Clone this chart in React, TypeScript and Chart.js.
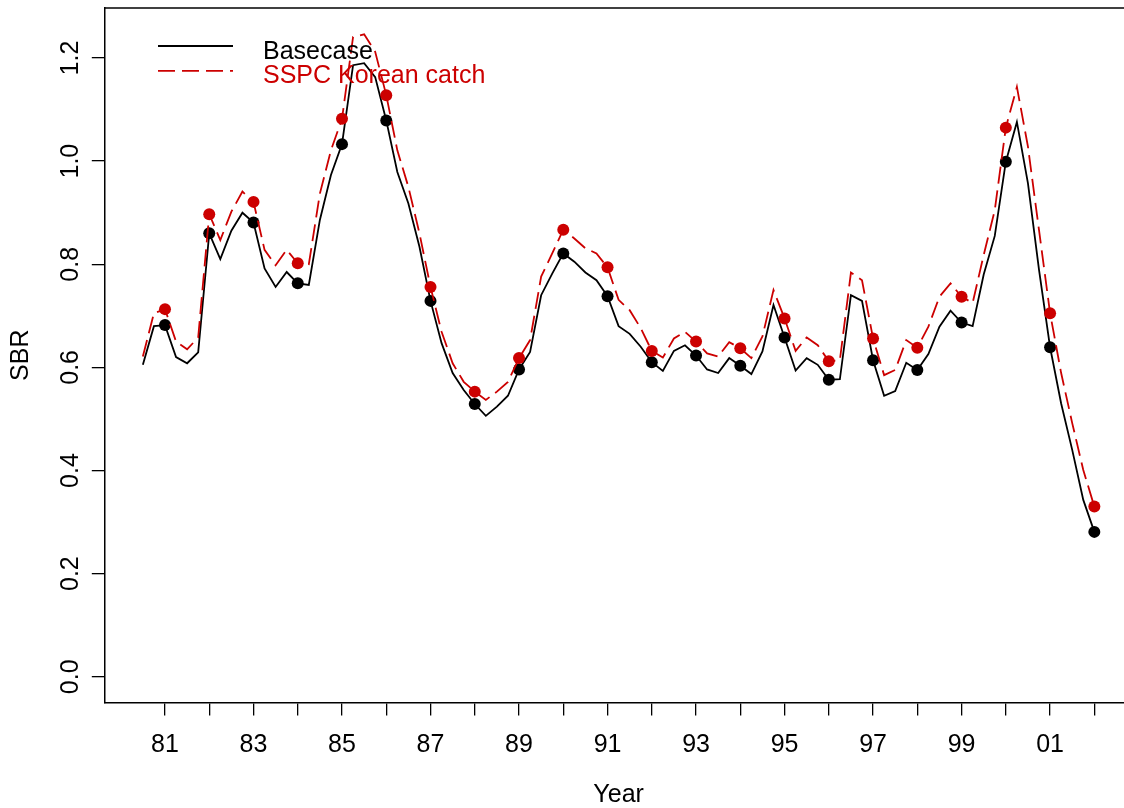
import React, { useEffect, useRef } from "react";
import { Chart, registerables } from "chart.js";

Chart.register(...registerables);

// ---- data -------------------------------------------------------------
const years: number[] = [
  1980.5, 1980.75,
  1981.0, 1981.25, 1981.5, 1981.75,
  1982.0, 1982.25, 1982.5, 1982.75,
  1983.0, 1983.25, 1983.5, 1983.75,
  1984.0, 1984.25, 1984.5, 1984.75,
  1985.0, 1985.25, 1985.5, 1985.75,
  1986.0, 1986.25, 1986.5, 1986.75,
  1987.0, 1987.25, 1987.5, 1987.75,
  1988.0, 1988.25, 1988.5, 1988.75,
  1989.0, 1989.25, 1989.5, 1989.75,
  1990.0, 1990.25, 1990.5, 1990.75,
  1991.0, 1991.25, 1991.5, 1991.75,
  1992.0, 1992.25, 1992.5, 1992.75,
  1993.0, 1993.25, 1993.5, 1993.75,
  1994.0, 1994.25, 1994.5, 1994.75,
  1995.0, 1995.25, 1995.5, 1995.75,
  1996.0, 1996.25, 1996.5, 1996.75,
  1997.0, 1997.25, 1997.5, 1997.75,
  1998.0, 1998.25, 1998.5, 1998.75,
  1999.0, 1999.25, 1999.5, 1999.75,
  2000.0, 2000.25, 2000.5, 2000.75,
  2001.0, 2001.25, 2001.5, 2001.75,
  2002.0,
];

const basecase: number[] = [
  0.605, 0.680,
  0.682, 0.620, 0.608, 0.629,
  0.860, 0.810, 0.865, 0.900,
  0.881, 0.792, 0.756, 0.785,
  0.763, 0.760, 0.886, 0.973,
  1.033, 1.186, 1.190, 1.163,
  1.079, 0.979, 0.918, 0.834,
  0.729, 0.647, 0.589, 0.556,
  0.529, 0.506, 0.524, 0.545,
  0.596, 0.630, 0.740, 0.782,
  0.821, 0.805, 0.784, 0.769,
  0.738, 0.680, 0.665, 0.640,
  0.610, 0.593, 0.632, 0.643,
  0.623, 0.596, 0.589, 0.618,
  0.603, 0.587, 0.631, 0.721,
  0.658, 0.594, 0.618, 0.605,
  0.576, 0.577, 0.740, 0.729,
  0.614, 0.545, 0.554, 0.609,
  0.595, 0.626, 0.679, 0.710,
  0.687, 0.680, 0.780, 0.855,
  0.999, 1.076, 0.957, 0.789,
  0.639, 0.530, 0.440, 0.343,
  0.281,
];

const sspcKorean: number[] = [
  0.621, 0.705,
  0.713, 0.650, 0.635, 0.658,
  0.897, 0.847, 0.902, 0.941,
  0.921, 0.828, 0.798, 0.828,
  0.802, 0.800, 0.937, 1.021,
  1.082, 1.241, 1.246, 1.212,
  1.128, 1.021, 0.950, 0.860,
  0.756, 0.669, 0.608, 0.572,
  0.553, 0.537, 0.553, 0.572,
  0.618, 0.653, 0.776, 0.821,
  0.867, 0.850, 0.831, 0.821,
  0.794, 0.731, 0.711, 0.676,
  0.632, 0.619, 0.656, 0.669,
  0.650, 0.627, 0.621, 0.649,
  0.637, 0.618, 0.660, 0.750,
  0.695, 0.632, 0.658, 0.643,
  0.612, 0.614, 0.784, 0.769,
  0.656, 0.585, 0.595, 0.653,
  0.638, 0.679, 0.737, 0.763,
  0.737, 0.725, 0.818, 0.905,
  1.065, 1.144, 1.028, 0.866,
  0.705, 0.589, 0.492, 0.401,
  0.330,
];

const seriesLabels: string[] = ["Basecase", "SSPC Korean catch"];

const xTickYears: number[] = [
  1981, 1982, 1983, 1984, 1985, 1986, 1987, 1988, 1989, 1990, 1991,
  1992, 1993, 1994, 1995, 1996, 1997, 1998, 1999, 2000, 2001, 2002,
];
const xTickLabels: string[] = [
  "81", "", "83", "", "85", "", "87", "", "89", "", "91",
  "", "93", "", "95", "", "97", "", "99", "", "01", "",
];
const yTicks: number[] = [0, 0.2, 0.4, 0.6, 0.8, 1.0, 1.2];
const yTickLabels: string[] = ["0.0", "0.2", "0.4", "0.6", "0.8", "1.0", "1.2"];

// ---- layout / style ---------------------------------------------------
const PAGE_W = 1124;
const PAGE_H = 808;
const CANVAS_W = 1140;
const AREA_LEFT = 104.8;
const AREA_TOP = 8;
const AREA_RIGHT = 1132.4;
const AREA_BOTTOM = 702.5;

const FAMILY = '"Liberation Sans", Arial, Helvetica, sans-serif';
const FONT_SIZE = 25;
const RED = "#CC0000";

const boxPlugin = {
  id: "rBox",
  afterDraw(chart: any) {
    const { ctx, chartArea } = chart;
    ctx.save();
    ctx.strokeStyle = "#000";
    ctx.lineWidth = 1.5;
    ctx.beginPath();
    ctx.moveTo(chartArea.left, chartArea.top);
    ctx.lineTo(chartArea.right + 2, chartArea.top);
    ctx.stroke();
    ctx.restore();
  },
};

const legendPlugin = {
  id: "rLegend",
  afterDatasetsDraw(chart: any) {
    const ctx = chart.ctx;
    const lineX0 = 158;
    const lineX1 = 233;
    const textX = 263;
    const y0 = 46;
    const dy = 24.8;
    chart.data.datasets.forEach((ds: any, i: number) => {
      const y = y0 + i * dy;
      ctx.save();
      ctx.strokeStyle = ds.borderColor;
      ctx.lineWidth = ds.borderWidth;
      ctx.setLineDash(ds.borderDash || []);
      ctx.beginPath();
      ctx.moveTo(lineX0, y);
      ctx.lineTo(lineX1, y);
      ctx.stroke();
      ctx.setLineDash([]);
      ctx.fillStyle = ds.borderColor;
      ctx.font = `${FONT_SIZE}px ${FAMILY}`;
      ctx.textBaseline = "alphabetic";
      ctx.textAlign = "left";
      ctx.fillText(ds.label, textX, y + 12.5);
      ctx.restore();
    });
  },
};

export default function App() {
  const canvasRef = useRef<HTMLCanvasElement | null>(null);

  useEffect(() => {
    const canvas = canvasRef.current;
    if (!canvas) return;
    const font = { family: FAMILY, size: FONT_SIZE };
    const titleFont = { family: FAMILY, size: FONT_SIZE, lineHeight: 1.0 };
    const dotRadius = (c: any) =>
      c.raw && Number.isInteger(c.raw.x) ? 6 : 0;

    const chart = new Chart(canvas, {
      type: "line",
      data: {
        datasets: [
          {
            label: seriesLabels[0],
            data: years.map((x, i) => ({ x, y: basecase[i] })),
            borderColor: "#000000",
            backgroundColor: "#000000",
            borderWidth: 1.8,
            pointRadius: dotRadius,
            pointHoverRadius: dotRadius,
            pointBorderWidth: 0,
            pointBackgroundColor: "#000000",
            tension: 0,
            fill: false,
            order: 1,
          },
          {
            label: seriesLabels[1],
            data: years.map((x, i) => ({ x, y: sspcKorean[i] })),
            borderColor: RED,
            backgroundColor: RED,
            borderWidth: 1.8,
            borderDash: [17, 7],
            pointRadius: dotRadius,
            pointHoverRadius: dotRadius,
            pointBorderWidth: 0,
            pointBackgroundColor: RED,
            tension: 0,
            fill: false,
            order: 0,
          },
        ],
      },
      options: {
        animation: false,
        responsive: false,
        devicePixelRatio: 1,
        events: [],
        layout: {
          padding: {
            top: AREA_TOP,
            left: 0,
            bottom: 0,
            right: CANVAS_W - AREA_RIGHT,
          },
        },
        plugins: {
          legend: { display: false },
          tooltip: { enabled: false },
          title: { display: false },
        },
        scales: {
          x: {
            type: "linear",
            min: 1979.64,
            max: 2002.86,
            afterBuildTicks: (s: any) => {
              s.ticks = xTickYears.map((v) => ({ value: v }));
            },
            afterFit: (s: any) => {
              s.height = PAGE_H - AREA_BOTTOM;
              s.paddingLeft = 0;
              s.paddingRight = 0;
              s.paddingTop = 0;
              s.paddingBottom = 0;
            },
            ticks: {
              autoSkip: false,
              minRotation: 0,
              maxRotation: 0,
              padding: 14.5,
              color: "#000",
              font,
              callback: (_v: any, i: number) => xTickLabels[i],
            },
            grid: {
              display: true,
              drawOnChartArea: false,
              drawTicks: true,
              tickLength: 13,
              color: "#000",
              lineWidth: 1.3,
            },
            border: { display: true, color: "#000", width: 1.5 },
            title: {
              display: true,
              text: "Year",
              color: "#000",
              font: titleFont,
              padding: { top: 0, bottom: 0 },
            },
          },
          y: {
            type: "linear",
            min: -0.0499,
            max: 1.297,
            afterBuildTicks: (s: any) => {
              s.ticks = yTicks.map((v) => ({ value: v }));
            },
            afterFit: (s: any) => {
              s.width = AREA_LEFT;
              s.paddingLeft = 0;
              s.paddingRight = 0;
              s.paddingTop = 0;
              s.paddingBottom = 0;
            },
            ticks: {
              autoSkip: false,
              minRotation: 90,
              maxRotation: 90,
              crossAlign: "center",
              padding: 3,
              color: "#000",
              font,
              callback: (_v: any, i: number) => yTickLabels[i],
            },
            grid: {
              display: true,
              drawOnChartArea: false,
              drawTicks: true,
              tickLength: 13,
              color: "#000",
              lineWidth: 1.3,
            },
            border: { display: true, color: "#000", width: 1.5 },
            title: {
              display: true,
              text: "SBR",
              color: "#000",
              font: titleFont,
              padding: { top: 9, bottom: 0 },
            },
          },
        },
      } as any,
      plugins: [boxPlugin, legendPlugin],
    });

    return () => {
      chart.destroy();
    };
  }, []);

  return (
    <div
      style={{
        position: "fixed",
        left: 0,
        top: 0,
        width: PAGE_W,
        height: PAGE_H,
        overflow: "hidden",
        background: "#ffffff",
      }}
    >
      <canvas
        ref={canvasRef}
        width={CANVAS_W}
        height={PAGE_H}
        style={{ display: "block", width: CANVAS_W, height: PAGE_H }}
      />
    </div>
  );
}
